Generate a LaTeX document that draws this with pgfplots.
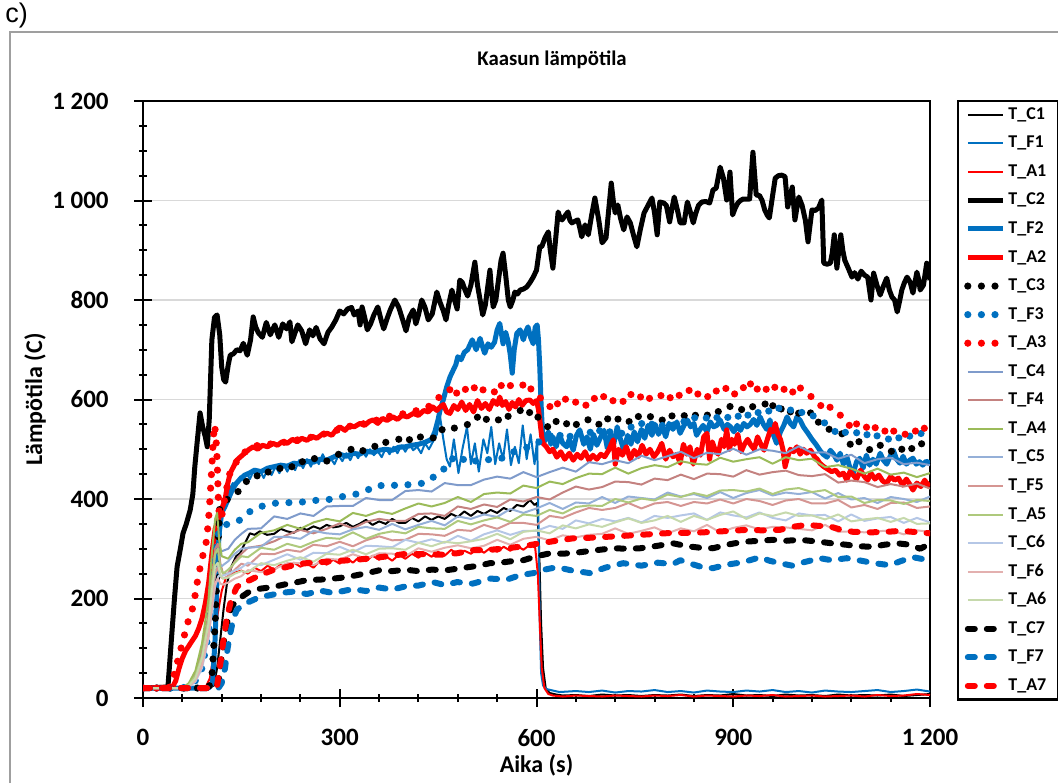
\documentclass[border=0pt]{standalone}
\usepackage{fontspec}
\setmainfont{Carlito}
\newfontfamily\arialf{Liberation Sans}
\usepackage{pgfplots}
\pgfplotsset{compat=1.18}
\definecolor{xblue}{HTML}{0070C0}
\definecolor{xred}{HTML}{FF0000}
\definecolor{cCf}{HTML}{7F9BCB}
\definecolor{cFf}{HTML}{C48280}
\definecolor{cAf}{HTML}{9BBB59}
\definecolor{cCv}{HTML}{95B0D8}
\definecolor{cFv}{HTML}{D59592}
\definecolor{cAv}{HTML}{AEC97C}
\definecolor{cCs}{HTML}{B5C7E6}
\definecolor{cFs}{HTML}{E3B0AF}
\definecolor{cAs}{HTML}{C6D9AC}
\pgfplotsset{
  thinl/.style={line width=1pt, line join=round},
  thickl/.style={line width=2.5pt, line join=round},
  dotl/.style={line width=3.6pt, line cap=round, dash pattern=on 0pt off 6.8pt},
  dashl/.style={line width=3pt, line cap=round, line join=round, dash pattern=on 3.5pt off 6pt},
}
\begin{document}
\begin{tikzpicture}
\useasboundingbox (0,0) rectangle (529pt,391.5pt);
\draw[gray!75, line width=0.7pt] (5pt,0) -- (5pt,375.5pt) -- (529pt,375.5pt);
\node[anchor=north west, inner sep=0pt, font=\arialf\fontsize{13.5}{15}\selectfont] at (2.5pt,390pt) {c)};
\node[font=\bfseries\fontsize{10.4}{12}\selectfont] at (276pt,361.5pt) {Kaasun lämpötila};
\begin{axis}[
  at={(71.5pt,42.5pt)}, anchor=south west,
  scale only axis, width=393.5pt, height=298.5pt,
  xmin=0, xmax=1200, ymin=0, ymax=1200,
  xtick={0,300,...,1200}, minor x tick num=4,
  ytick={0,200,...,1200}, minor y tick num=3,
  tick pos=left, tick align=center,
  major tick length=9pt, minor tick length=4pt,
  tick style={black, line width=1pt},
  ymajorgrids, major grid style={color=black!15, line width=0.8pt},
  axis line style={line width=1.2pt},
  /pgf/number format/1000 sep={\ },
  /pgf/number format/assume math mode=true,
  ticklabel style={font=\bfseries\fontsize{12.5}{14}\selectfont},
  yticklabel style={anchor=east, inner sep=0pt, xshift=-12.5pt},
  xticklabel style={anchor=north, inner sep=0pt, yshift=-11pt},
  xlabel={Aika (s)}, ylabel={Lämpötila (C)},
  label style={font=\bfseries\fontsize{12}{14}\selectfont},
  xlabel style={at={(axis description cs:0.5,-0.1122)}, anchor=center},
  ylabel style={at={(axis description cs:-0.1372,0.5)}, anchor=center},
  no markers,
  legend image code/.code={\draw[#1] (0pt,0pt) -- (17.5pt,0pt);},
  legend cell align=left,
  legend style={at={(1,1)}, anchor=north west, xshift=13.5pt, yshift=0.5pt,
    draw=black, line width=1.2pt, inner xsep=3pt, inner ysep=2pt, row sep=4.78pt,
    font=\bfseries\fontsize{9}{10}\selectfont,
    nodes={text height=6pt, text depth=1.5pt, inner sep=1pt, text width=21pt}},
]
% T_C1
\addplot[thinl, black] coordinates {(0,20)(100,20)(108,25)(113,60)(118,120)(123,180)(128,230)(135,265)(142,285)(148,291)(155,310)(163,331)(170,328)(178,335)(189,328)(200,330)(210,340)(220,335)(230,332)(240,342)(250,338)(260,345)(270,340)(280,348)(290,343)(300,345)(310,352)(320,344)(330,350)(340,358)(350,348)(360,355)(370,350)(380,360)(390,352)(400,352)(410,362)(420,355)(430,365)(440,358)(450,365)(460,360)(470,370)(480,364)(490,375)(500,366)(510,376)(520,370)(530,378)(540,372)(550,382)(560,376)(570,388)(580,385)(590,398)(597,388)(601,392)(604,300)(607,150)(610,60)(614,20)(620,10)(630,7)(640,5)(660,6)(680,4)(700,7)(720,5)(740,6)(760,4)(780,6)(800,5)(820,7)(840,4)(860,6)(880,5)(900,8)(920,5)(940,6)(960,4)(980,7)(1000,5)(1020,6)(1040,4)(1060,7)(1080,5)(1100,6)(1120,5)(1140,7)(1160,4)(1180,6)(1200,8)};
\addlegendentry{T\_C1}
% T_F1
\addplot[thinl, xblue] coordinates {(0,20)(100,20)(106,40)(110,120)(114,260)(118,350)(122,390)(127,400)(132,420)(137,432)(142,425)(148,445)(153,438)(158,452)(163,440)(168,455)(173,446)(178,458)(184,442)(190,460)(196,448)(202,465)(208,452)(214,470)(220,455)(226,472)(232,458)(238,478)(244,462)(250,480)(256,465)(262,486)(268,470)(274,490)(280,474)(286,482)(292,470)(298,488)(304,476)(310,492)(316,478)(322,495)(328,482)(334,498)(340,485)(346,500)(352,488)(358,496)(364,484)(370,502)(376,490)(382,505)(388,492)(394,508)(400,495)(406,510)(412,498)(418,505)(424,492)(430,512)(436,500)(442,515)(448,530)(453,565)(458,520)(463,480)(468,465)(474,520)(481,452)(487,500)(494,545)(500,470)(506,512)(512,455)(519,520)(525,492)(531,545)(537,470)(543,512)(549,480)(555,540)(561,468)(567,505)(573,472)(579,548)(585,480)(591,530)(597,470)(601,520)(603,350)(605,150)(607,50)(610,25)(615,18)(625,15)(635,12)(660,14)(680,12)(700,15)(720,11)(740,14)(760,13)(780,16)(800,12)(820,14)(840,11)(860,15)(880,13)(900,12)(920,15)(940,13)(960,16)(980,12)(1000,14)(1020,11)(1040,15)(1060,13)(1080,12)(1100,14)(1120,16)(1140,12)(1160,14)(1180,17)(1200,13)};
\addlegendentry{T\_F1}
% T_A1
\addplot[thinl, xred] coordinates {(0,20)(95,20)(102,40)(108,90)(114,170)(120,215)(126,240)(132,248)(140,252)(150,256)(160,250)(170,262)(180,255)(190,266)(200,258)(210,268)(220,260)(230,272)(240,264)(250,270)(260,262)(270,276)(280,268)(290,278)(300,270)(310,282)(320,272)(330,284)(340,275)(350,286)(360,278)(370,285)(380,276)(390,288)(400,280)(410,290)(420,282)(430,292)(440,284)(450,294)(460,286)(470,298)(480,288)(490,296)(500,290)(510,300)(520,292)(530,302)(540,294)(550,304)(560,296)(570,306)(580,298)(590,308)(598,302)(602,250)(605,150)(608,60)(612,20)(618,8)(625,5)(640,3)(660,5)(680,4)(700,3)(720,5)(740,4)(760,3)(780,5)(800,4)(820,6)(840,3)(860,5)(880,4)(900,3)(920,5)(940,4)(960,6)(980,3)(1000,4)(1020,5)(1040,3)(1060,4)(1080,5)(1100,3)(1120,6)(1140,4)(1160,5)(1180,8)(1200,6)};
\addlegendentry{T\_A1}
% T_C2
\addplot[thickl, black] coordinates {(0,20)(38,22)(44,130)(48,200)(52,264)(57,300)(61,331)(66,350)(72,378)(76,410)(79,465)(83,520)(87,573)(91,545)(95,525)(98,505)(101,560)(105,720)(109,765)(113,770)(117,730)(120,665)(123,640)(126,635)(130,670)(133,689)(138,692)(143,700)(148,698)(153,713)(159,689)(164,720)(168,766)(172,745)(176,734)(182,725)(188,755)(194,730)(201,750)(207,725)(213,752)(219,742)(224,756)(227,716)(232,735)(236,750)(242,738)(248,712)(254,740)(259,728)(264,745)(270,722)(276,712)(282,735)(288,746)(294,760)(300,778)(306,772)(312,782)(318,785)(322,770)(328,778)(331,750)(334,786)(338,765)(342,740)(347,752)(352,770)(358,786)(363,760)(367,742)(372,762)(377,780)(384,800)(390,785)(396,760)(401,738)(406,765)(412,780)(416,752)(420,770)(425,800)(430,785)(435,760)(441,772)(448,816)(453,795)(458,778)(462,760)(466,790)(471,820)(475,800)(479,782)(483,840)(487,835)(491,820)(495,808)(500,830)(506,876)(510,830)(514,800)(518,770)(522,790)(526,830)(529,860)(532,810)(534,786)(538,800)(542,840)(546,880)(549,894)(553,850)(557,800)(560,786)(564,800)(567,816)(571,812)(575,820)(580,822)(585,826)(590,835)(595,846)(600,860)(605,907)(608,907)(613,925)(618,937)(621,900)(625,864)(629,920)(633,977)(636,965)(639,961)(644,970)(648,977)(651,960)(654,955)(658,958)(663,961)(666,945)(669,927)(674,951)(679,931)(684,970)(689,1005)(695,960)(700,915)(703,920)(706,925)(710,980)(714,1035)(717,1000)(720,975)(724,991)(728,965)(733,941)(738,967)(743,955)(748,930)(753,907)(758,940)(764,975)(770,990)(776,1005)(780,975)(784,931)(788,997)(794,995)(798,990)(803,957)(806,980)(810,1007)(815,980)(819,955)(825,955)(830,997)(835,975)(839,955)(843,975)(847,990)(852,997)(858,998)(864,995)(867,1010)(869,1021)(874,1025)(880,1067)(885,1045)(890,1001)(893,1030)(895,1057)(899,971)(903,985)(907,995)(911,1000)(915,1003)(920,1003)(925,1003)(930,1097)(935,1011)(940,1010)(944,1000)(948,981)(952,970)(955,965)(960,1010)(964,1045)(969,1050)(974,1051)(979,1048)(983,987)(987,1010)(990,1027)(994,961)(997,985)(1000,1007)(1005,990)(1010,960)(1014,917)(1017,950)(1020,981)(1025,980)(1030,985)(1035,1001)(1038,874)(1043,872)(1048,874)(1051,895)(1054,931)(1058,864)(1061,900)(1064,931)(1067,900)(1070,880)(1075,865)(1081,846)(1085,855)(1090,842)(1095,858)(1100,850)(1105,846)(1110,800)(1114,854)(1119,830)(1124,810)(1129,828)(1134,844)(1138,820)(1142,806)(1146,800)(1150,776)(1154,800)(1157,820)(1161,835)(1165,846)(1170,835)(1174,814)(1177,835)(1180,856)(1183,840)(1185,820)(1190,830)(1195,874)(1200,840)};
\addlegendentry{T\_C2}
% T_F2
\addplot[thickl, xblue] coordinates {(0,20)(100,20)(106,30)(110,120)(113,250)(116,330)(120,372)(125,385)(130,400)(135,415)(140,428)(148,440)(155,448)(162,452)(170,458)(180,455)(190,462)(200,465)(210,468)(220,466)(230,472)(240,470)(250,476)(260,474)(270,480)(280,478)(290,484)(300,490)(310,486)(320,492)(330,490)(340,496)(350,494)(360,498)(370,500)(380,498)(390,504)(400,505)(410,508)(420,510)(430,514)(440,520)(445,535)(450,560)(453,579)(458,600)(463,625)(468,645)(473,659)(477,670)(480,686)(485,680)(490,695)(495,700)(502,720)(508,700)(514,723)(518,705)(521,693)(526,712)(531,705)(536,715)(540,740)(544,753)(549,712)(553,735)(557,715)(560,690)(563,653)(566,700)(570,733)(575,740)(580,720)(584,738)(587,746)(591,725)(595,712)(598,745)(601,750)(603,720)(605,665)(607,590)(610,512)(614,520)(618,535)(622,510)(625,525)(630,505)(635,530)(640,512)(646,505)(650,520)(656,498)(661,528)(666,539)(672,510)(677,525)(682,500)(687,530)(692,508)(697,522)(703,538)(708,502)(713,530)(718,512)(723,545)(728,520)(733,498)(739,528)(744,510)(749,535)(754,515)(760,540)(765,522)(770,548)(776,528)(781,550)(786,530)(792,545)(797,525)(802,552)(808,540)(814,555)(819,532)(825,548)(830,559)(835,545)(840,552)(844,528)(849,539)(854,548)(860,535)(865,555)(870,545)(875,548)(880,559)(886,540)(891,550)(896,545)(901,535)(906,548)(911,538)(916,552)(921,545)(926,550)(931,560)(936,548)(941,565)(946,550)(951,540)(956,559)(961,530)(966,512)(972,535)(977,548)(982,565)(987,552)(992,545)(997,565)(1002,558)(1007,545)(1014,532)(1020,520)(1026,510)(1032,498)(1037,490)(1043,484)(1048,498)(1053,490)(1058,478)(1063,492)(1068,470)(1073,486)(1078,462)(1083,452)(1088,475)(1093,482)(1098,462)(1103,488)(1108,468)(1113,480)(1118,470)(1124,492)(1129,478)(1134,470)(1139,485)(1144,498)(1149,480)(1154,472)(1159,486)(1164,470)(1169,478)(1174,482)(1179,470)(1184,475)(1189,468)(1194,476)(1200,472)};
\addlegendentry{T\_F2}
% T_A2
\addplot[thickl, xred] coordinates {(0,20)(45,22)(50,35)(55,60)(60,80)(65,95)(70,105)(75,115)(80,125)(85,140)(90,160)(95,190)(100,230)(105,290)(110,340)(115,360)(120,380)(125,398)(129,430)(133,452)(138,465)(143,478)(148,484)(155,492)(162,500)(168,505)(175,500)(182,508)(190,505)(198,512)(205,508)(212,515)(220,512)(228,520)(235,515)(242,522)(250,518)(258,526)(265,522)(273,530)(281,532)(288,528)(295,540)(300,545)(308,538)(315,548)(322,545)(331,552)(338,548)(345,556)(351,559)(358,552)(365,562)(372,558)(381,565)(388,560)(395,568)(403,565)(412,572)(420,568)(428,578)(435,575)(442,585)(448,578)(453,585)(458,590)(463,575)(468,572)(474,588)(480,580)(486,595)(492,578)(498,590)(504,575)(510,598)(516,582)(522,592)(528,580)(534,598)(540,590)(544,605)(548,588)(553,596)(558,580)(563,594)(568,585)(573,600)(578,588)(584,598)(590,599)(595,592)(600,598)(603,580)(605,559)(608,525)(610,512)(615,505)(620,495)(625,500)(631,484)(637,495)(643,480)(650,492)(656,478)(662,490)(668,482)(674,495)(680,478)(686,488)(692,480)(698,490)(704,485)(710,498)(717,519)(720,470)(725,500)(731,488)(737,505)(743,480)(749,498)(755,485)(761,508)(767,490)(773,500)(779,485)(785,495)(791,512)(797,480)(803,498)(808,485)(814,490)(819,472)(824,510)(829,490)(834,505)(839,470)(845,500)(850,488)(855,525)(860,532)(864,480)(868,515)(872,500)(877,490)(882,520)(886,505)(890,539)(894,500)(898,520)(902,510)(907,530)(912,495)(917,510)(922,520)(927,508)(932,500)(937,525)(942,510)(947,498)(952,520)(957,540)(961,535)(964,552)(968,530)(972,520)(976,498)(979,465)(983,485)(987,500)(992,495)(997,505)(1002,490)(1007,500)(1012,492)(1018,498)(1024,485)(1028,480)(1032,472)(1038,465)(1044,460)(1050,455)(1056,458)(1062,448)(1068,452)(1073,438)(1078,455)(1083,448)(1088,440)(1094,458)(1100,445)(1105,438)(1110,452)(1116,440)(1122,448)(1128,436)(1134,432)(1140,445)(1146,438)(1152,442)(1158,428)(1164,440)(1169,430)(1174,418)(1180,432)(1186,425)(1192,438)(1196,428)(1200,432)};
\addlegendentry{T\_A2}
% T_C3
\addplot[dotl, black] coordinates {(0,20)(100,20)(105,40)(110,150)(114,300)(117,384)(122,395)(130,400)(140,412)(150,418)(158,436)(165,438)(171,448)(180,444)(188,455)(200,452)(213,466)(225,462)(236,478)(250,472)(265,484)(280,476)(293,488)(310,494)(320,502)(331,494)(350,508)(360,502)(372,516)(390,520)(400,528)(410,514)(427,528)(445,522)(455,540)(463,535)(480,546)(496,550)(509,566)(517,552)(525,562)(540,556)(550,572)(557,566)(575,578)(585,566)(593,580)(600,568)(605,560)(612,552)(621,540)(630,556)(640,545)(654,560)(662,548)(670,556)(686,562)(695,550)(705,566)(715,552)(730,566)(742,555)(752,570)(760,560)(775,566)(790,556)(800,572)(808,566)(820,572)(834,560)(848,574)(860,568)(870,580)(880,574)(895,586)(910,576)(920,590)(933,584)(948,592)(955,578)(964,594)(972,580)(980,588)(994,563)(1003,578)(1012,574)(1024,572)(1032,548)(1040,543)(1055,536)(1068,530)(1081,505)(1090,518)(1096,508)(1105,500)(1113,498)(1122,510)(1130,502)(1140,494)(1147,506)(1157,500)(1165,510)(1175,498)(1185,512)(1200,505)};
\addlegendentry{T\_C3}
% T_F3
\addplot[dotl, xblue] coordinates {(0,20)(60,20)(70,25)(80,35)(90,60)(100,130)(105,220)(110,290)(115,330)(120,345)(130,350)(140,352)(148,358)(157,368)(166,378)(180,385)(195,390)(213,394)(228,392)(243,394)(258,398)(272,396)(287,400)(300,404)(320,408)(338,415)(357,428)(375,425)(392,430)(410,428)(427,432)(440,440)(448,452)(457,458)(466,470)(476,488)(488,480)(499,472)(510,478)(519,482)(530,478)(547,482)(560,492)(575,500)(590,505)(600,510)(608,520)(620,528)(630,518)(640,534)(650,524)(660,540)(670,528)(680,536)(690,526)(700,544)(710,534)(720,540)(730,532)(740,548)(750,540)(760,552)(770,542)(780,556)(790,546)(800,556)(810,548)(819,560)(830,552)(840,564)(852,556)(864,568)(872,560)(880,570)(890,562)(900,574)(908,566)(915,576)(922,568)(930,580)(940,572)(950,582)(958,572)(968,584)(978,574)(990,580)(1000,570)(1009,578)(1020,568)(1032,562)(1040,552)(1045,546)(1055,536)(1063,526)(1075,538)(1085,530)(1095,540)(1105,528)(1112,536)(1120,526)(1128,530)(1139,518)(1148,528)(1155,520)(1165,530)(1174,522)(1185,532)(1200,528)};
\addlegendentry{T\_F3}
% T_A3
\addplot[dotl, xred] coordinates {(0,20)(40,20)(46,40)(52,70)(57,95)(61,116)(66,140)(70,160)(75,177)(80,210)(84,243)(90,280)(94,300)(97,317)(100,360)(102,398)(105,465)(107,519)(109,549)(111,530)(113,480)(114,440)(115,392)(117,360)(120,365)(124,395)(128,424)(133,455)(140,470)(148,485)(156,495)(165,502)(175,508)(190,510)(205,512)(220,515)(240,520)(260,525)(280,532)(300,540)(320,548)(340,552)(360,560)(380,568)(400,572)(418,578)(435,585)(445,600)(457,608)(465,615)(473,628)(480,608)(490,622)(500,612)(508,630)(515,618)(530,624)(538,612)(545,630)(553,618)(560,628)(575,624)(585,636)(592,620)(600,615)(610,595)(620,585)(628,600)(635,585)(645,602)(655,590)(665,600)(675,588)(685,606)(695,594)(705,610)(715,596)(725,606)(735,592)(745,612)(755,600)(765,614)(775,598)(790,608)(800,596)(810,616)(822,604)(834,620)(842,606)(850,616)(860,604)(870,622)(880,610)(890,624)(900,608)(913,628)(920,616)(929,638)(937,620)(945,630)(955,612)(967,630)(975,618)(985,628)(993,610)(1000,625)(1012,615)(1020,604)(1026,600)(1037,582)(1045,590)(1052,575)(1062,570)(1070,560)(1077,548)(1083,538)(1090,556)(1098,552)(1106,540)(1112,550)(1120,538)(1127,544)(1135,530)(1140,540)(1148,534)(1154,538)(1162,530)(1170,542)(1180,535)(1188,548)(1195,536)(1200,540)};
\addlegendentry{T\_A3}
% T_C4
\addplot[thinl, cCf] coordinates {(0,20)(60,20)(70,25)(80,40)(90,80)(100,160)(105,230)(110,290)(115,300)(120,295)(130,300)(140,318)(150,330)(160,340)(180,341)(200,365)(220,360)(240,371)(260,366)(280,385)(300,386)(320,386)(340,402)(360,398)(380,398)(400,416)(420,418)(440,415)(460,432)(480,428)(500,428)(520,439)(540,445)(560,441)(580,454)(600,444)(620,454)(640,463)(660,455)(680,474)(700,470)(720,478)(740,472)(760,487)(780,478)(800,486)(820,495)(840,482)(860,493)(880,490)(900,501)(920,489)(940,500)(960,497)(980,492)(1000,506)(1020,493)(1040,494)(1060,481)(1080,489)(1100,472)(1120,480)(1140,483)(1160,470)(1180,473)(1200,468)};
\addlegendentry{T\_C4}
% T_F4
\addplot[thinl, cFf] coordinates {(0,20)(60,20)(70,28)(80,50)(90,95)(100,170)(105,240)(110,300)(114,310)(118,270)(122,250)(130,250)(140,275)(150,290)(160,302)(180,306)(200,315)(220,328)(240,338)(260,331)(280,340)(300,351)(320,341)(340,354)(360,360)(380,356)(400,356)(420,370)(440,371)(460,366)(480,385)(500,380)(520,389)(540,384)(560,399)(580,395)(600,404)(620,399)(640,413)(660,425)(680,419)(700,424)(720,435)(740,434)(760,429)(780,441)(800,438)(820,449)(840,440)(860,451)(880,450)(900,445)(920,458)(940,449)(960,454)(980,457)(1000,448)(1020,446)(1040,450)(1060,433)(1080,437)(1100,434)(1120,424)(1140,430)(1160,425)(1180,431)(1200,421)};
\addlegendentry{T\_F4}
% T_A4
\addplot[thinl, cAf] coordinates {(0,20)(60,20)(70,30)(80,55)(90,110)(100,200)(105,290)(110,360)(113,372)(116,320)(120,285)(130,280)(140,298)(150,310)(160,313)(180,332)(200,337)(220,348)(240,340)(260,353)(280,360)(300,355)(320,372)(340,366)(360,375)(380,370)(400,381)(420,391)(440,385)(460,392)(480,404)(500,394)(520,410)(540,413)(560,411)(580,427)(600,422)(620,435)(640,430)(660,442)(680,451)(700,450)(720,463)(740,451)(760,462)(780,468)(800,464)(820,476)(840,471)(860,469)(880,483)(900,475)(920,480)(940,484)(960,471)(980,484)(1000,478)(1020,481)(1040,464)(1060,468)(1080,461)(1100,451)(1120,461)(1140,449)(1160,453)(1180,444)(1200,452)};
\addlegendentry{T\_A4}
% T_C5
\addplot[thinl, cCv] coordinates {(0,20)(60,20)(70,24)(80,38)(90,70)(100,140)(105,200)(110,250)(115,270)(120,265)(130,275)(140,290)(150,300)(160,302)(180,304)(200,324)(220,324)(240,320)(260,336)(280,331)(300,329)(320,339)(340,344)(360,338)(380,350)(400,339)(420,348)(440,356)(460,347)(480,365)(500,360)(520,369)(540,364)(560,380)(580,372)(600,381)(620,392)(640,380)(660,393)(680,391)(700,404)(720,392)(740,405)(760,402)(780,399)(800,413)(820,405)(840,410)(860,402)(880,414)(900,402)(920,412)(940,418)(960,407)(980,413)(1000,410)(1020,414)(1040,401)(1060,412)(1080,399)(1100,402)(1120,392)(1140,404)(1160,400)(1180,394)(1200,405)};
\addlegendentry{T\_C5}
% T_F5
\addplot[thinl, cFv] coordinates {(0,20)(60,20)(70,24)(80,40)(90,75)(100,140)(105,200)(110,250)(114,262)(118,245)(122,240)(130,245)(140,258)(150,270)(160,266)(180,290)(200,289)(220,298)(240,294)(260,308)(280,305)(300,314)(320,305)(340,317)(360,325)(380,317)(400,318)(420,330)(440,329)(460,326)(480,338)(500,336)(520,348)(540,340)(560,352)(580,352)(600,348)(620,366)(640,362)(660,373)(680,382)(700,378)(720,382)(740,392)(760,381)(780,391)(800,394)(820,386)(840,394)(860,391)(880,399)(900,391)(920,400)(940,396)(960,388)(980,397)(1000,400)(1020,391)(1040,391)(1060,398)(1080,383)(1100,388)(1120,380)(1140,392)(1160,393)(1180,382)(1200,385)};
\addlegendentry{T\_F5}
% T_A5
\addplot[thinl, cAv] coordinates {(0,20)(60,20)(70,26)(80,45)(90,85)(100,160)(105,230)(110,290)(114,300)(118,262)(122,250)(130,258)(140,272)(150,285)(160,283)(180,302)(200,298)(220,310)(240,303)(260,314)(280,322)(300,320)(320,333)(340,320)(360,330)(380,335)(400,331)(420,344)(440,341)(460,340)(480,356)(500,349)(520,357)(540,363)(560,354)(580,369)(600,366)(620,378)(640,371)(660,384)(680,387)(700,386)(720,400)(740,393)(760,401)(780,397)(800,409)(820,404)(840,412)(860,406)(880,417)(900,418)(920,415)(940,421)(960,410)(980,419)(1000,422)(1020,414)(1040,418)(1060,404)(1080,405)(1100,392)(1120,398)(1140,397)(1160,390)(1180,398)(1200,396)};
\addlegendentry{T\_A5}
% T_C6
\addplot[thinl, cCs] coordinates {(0,20)(60,20)(70,22)(80,33)(90,60)(100,120)(105,175)(110,225)(115,245)(120,245)(130,250)(140,256)(150,262)(160,272)(180,267)(200,278)(220,289)(240,278)(260,292)(280,291)(300,304)(320,293)(340,306)(360,305)(380,303)(400,318)(420,312)(440,319)(460,312)(480,326)(500,316)(520,329)(540,337)(560,328)(580,336)(600,336)(620,346)(640,340)(660,357)(680,351)(700,360)(720,355)(740,362)(760,353)(780,366)(800,362)(820,367)(840,371)(860,358)(880,373)(900,367)(920,363)(940,373)(960,362)(980,357)(1000,371)(1020,367)(1040,368)(1060,355)(1080,369)(1100,356)(1120,361)(1140,364)(1160,352)(1180,362)(1200,353)};
\addlegendentry{T\_C6}
% T_F6
\addplot[thinl, cFs] coordinates {(0,20)(60,20)(70,23)(80,35)(90,65)(100,125)(105,180)(110,230)(114,240)(118,230)(122,228)(130,232)(140,240)(150,245)(160,257)(180,253)(200,259)(220,271)(240,271)(260,267)(280,280)(300,278)(320,289)(340,280)(360,291)(380,290)(400,285)(420,301)(440,294)(460,302)(480,307)(500,301)(520,306)(540,318)(560,308)(580,320)(600,324)(620,317)(640,327)(660,323)(680,328)(700,330)(720,341)(740,330)(760,336)(780,343)(800,331)(820,341)(840,335)(860,348)(880,333)(900,342)(920,347)(940,339)(960,344)(980,343)(1000,340)(1020,337)(1040,348)(1060,334)(1080,335)(1100,333)(1120,335)(1140,337)(1160,329)(1180,337)(1200,334)};
\addlegendentry{T\_F6}
% T_A6
\addplot[thinl, cAs] coordinates {(0,20)(60,20)(70,25)(80,40)(90,80)(100,150)(105,215)(110,265)(114,272)(118,248)(122,240)(130,242)(140,250)(150,255)(160,253)(180,271)(200,267)(220,276)(240,283)(260,274)(280,290)(300,288)(320,298)(340,289)(360,300)(380,301)(400,298)(420,312)(440,305)(460,314)(480,311)(500,315)(520,320)(540,330)(560,319)(580,334)(600,337)(620,331)(640,347)(660,341)(680,349)(700,344)(720,353)(740,361)(760,352)(780,357)(800,366)(820,354)(840,366)(860,358)(880,368)(900,375)(920,360)(940,371)(960,366)(980,373)(1000,366)(1020,367)(1040,359)(1060,369)(1080,355)(1100,359)(1120,362)(1140,354)(1160,362)(1180,350)(1200,351)};
\addlegendentry{T\_A6}
% T_C7
\addplot[dashl, black] coordinates {(0,20)(110,20)(115,30)(119,70)(122,100)(125,130)(130,160)(135,183)(142,195)(150,203)(160,212)(168,217)(180,220)(198,223)(215,228)(232,232)(250,237)(270,238)(290,240)(311,243)(330,248)(345,252)(361,257)(380,255)(400,258)(420,255)(440,258)(463,257)(480,260)(496,263)(512,266)(529,271)(545,272)(562,275)(580,277)(600,285)(621,291)(640,290)(666,293)(690,297)(717,301)(740,300)(758,301)(780,305)(808,311)(830,305)(850,302)(869,301)(890,308)(915,314)(940,316)(961,318)(980,316)(1002,318)(1017,316)(1032,314)(1050,311)(1073,308)(1090,305)(1113,304)(1130,308)(1150,311)(1170,308)(1185,300)(1200,310)};
\addlegendentry{T\_C7}
% T_F7
\addplot[dashl, xblue] coordinates {(0,20)(115,20)(120,30)(125,60)(129,100)(133,130)(138,160)(143,177)(150,185)(158,191)(168,197)(178,203)(195,207)(209,211)(230,214)(250,209)(270,216)(290,211)(320,219)(340,215)(360,222)(380,218)(402,225)(420,226)(442,233)(460,227)(479,233)(503,230)(530,240)(555,238)(575,247)(595,251)(612,258)(631,263)(655,256)(682,251)(705,262)(732,271)(760,266)(785,272)(808,269)(819,277)(840,268)(855,262)(869,261)(890,268)(915,273)(941,283)(955,276)(971,271)(990,266)(1005,272)(1032,281)(1050,277)(1073,281)(1095,276)(1115,271)(1139,267)(1155,275)(1174,283)(1190,279)(1200,279)};
\addlegendentry{T\_F7}
% T_A7
\addplot[dashl, xred] coordinates {(0,20)(110,20)(113,25)(118,70)(122,110)(128,163)(135,200)(143,223)(153,232)(163,237)(180,248)(198,257)(218,263)(239,270)(260,272)(280,274)(300,276)(320,277)(340,280)(361,283)(380,286)(402,290)(430,289)(455,288)(479,291)(503,297)(530,298)(555,301)(580,305)(605,311)(630,316)(656,321)(680,322)(707,324)(733,326)(758,328)(783,330)(808,332)(840,332)(869,334)(895,336)(921,338)(945,337)(971,338)(990,344)(1012,348)(1030,346)(1047,345)(1065,338)(1083,334)(1110,333)(1134,334)(1155,336)(1174,334)(1200,331)};
\addlegendentry{T\_A7}
\end{axis}
\end{tikzpicture}
\end{document}
